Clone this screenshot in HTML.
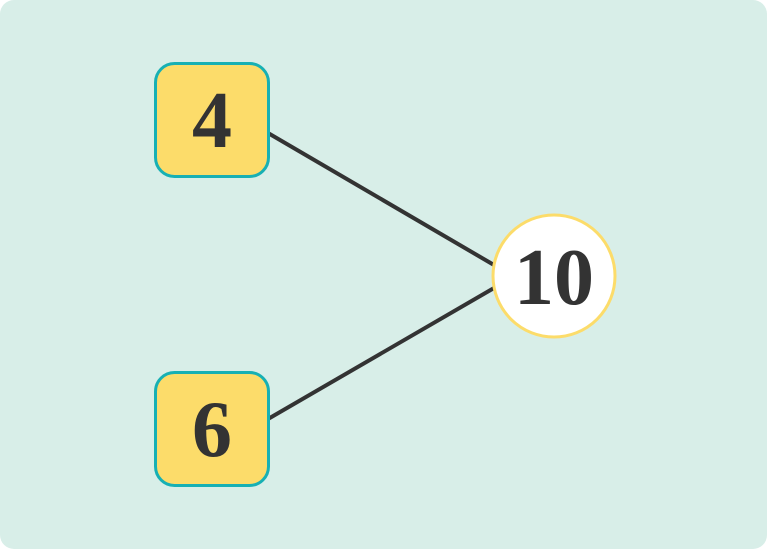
<!DOCTYPE html>
<html><head><style>
html,body{margin:0;padding:0;background:#fff;}
body{width:767px;height:549px;position:relative;overflow:hidden;}
svg{position:absolute;left:0;top:0;}
</style></head><body>
<svg width="767" height="549" viewBox="0 0 767 549">
<rect x="0" y="0" width="767" height="549" rx="14" fill="#d8eee8"/>
<line x1="268" y1="133" x2="494" y2="265" stroke="#333" stroke-width="4"/>
<line x1="268" y1="419" x2="494" y2="288" stroke="#333" stroke-width="4"/>
<rect x="155.5" y="63.5" width="113" height="113" rx="19" fill="#fcdc6a" stroke="#17b0b4" stroke-width="3"/>
<rect x="155.5" y="372.5" width="113" height="113" rx="19" fill="#fcdc6a" stroke="#17b0b4" stroke-width="3"/>
<circle cx="554" cy="276" r="61" fill="#fff" stroke="#fcdc6a" stroke-width="3"/>
<g font-family="'Liberation Serif',serif" font-weight="bold" font-size="80" fill="#333" text-anchor="middle">
<text x="212" y="147">4</text>
<text x="212" y="456">6</text>
<text x="554" y="304">10</text>
</g>
</svg>
</body></html>
